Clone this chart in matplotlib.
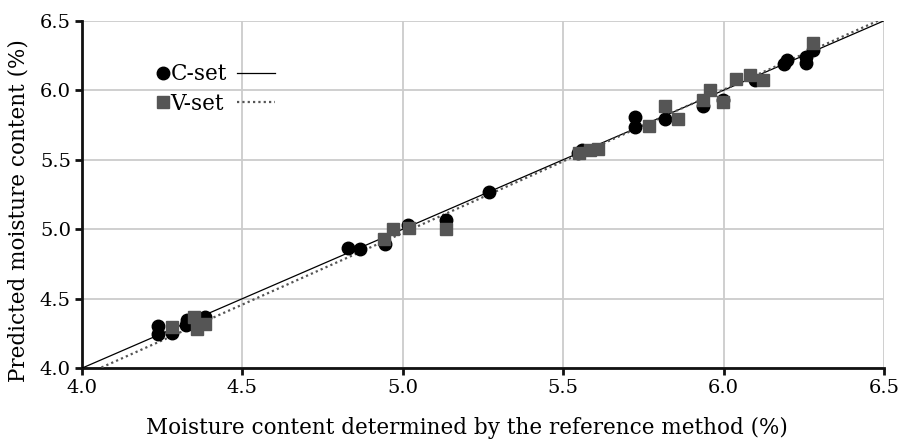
import matplotlib
matplotlib.use("Agg")
import matplotlib.pyplot as plt
from matplotlib.lines import Line2D
import numpy as np

plt.rcParams['font.family'] = ['DejaVu Serif', 'Liberation Serif']

# C-set (calibration) reference vs predicted
c_ref = [4.237, 4.237, 4.28, 4.324, 4.327, 4.383, 4.828, 4.866, 4.944, 5.017, 5.135, 5.268,
         5.545, 5.56, 5.724, 5.724, 5.817, 5.937, 5.999, 6.098, 6.19, 6.197, 6.257, 6.257, 6.28]
c_pred = [4.302, 4.245, 4.25, 4.31, 4.35, 4.37, 4.865, 4.858, 4.897, 5.029, 5.065, 5.268,
          5.55, 5.57, 5.81, 5.736, 5.79, 5.89, 5.928, 6.072, 6.19, 6.215, 6.24, 6.195, 6.29]
# V-set (validation)
v_ref = [4.28, 4.35, 4.358, 4.383, 4.942, 4.969, 5.019, 5.135, 5.55, 5.584, 5.61,
         5.768, 5.817, 5.859, 5.937, 5.958, 5.999, 6.038, 6.082, 6.124, 6.28]
v_pred = [4.295, 4.37, 4.28, 4.32, 4.933, 5.0, 5.012, 5.005, 5.545, 5.573, 5.576,
          5.741, 5.887, 5.796, 5.928, 6.005, 5.916, 6.083, 6.108, 6.077, 6.34]

# regression lines (slope, intercept)
c_fit = (1.0, 0.0)
v_fit = (1.031, -0.182)

x_ticks = [4.0, 4.5, 5.0, 5.5, 6.0, 6.5]
y_ticks = [4.0, 4.5, 5.0, 5.5, 6.0, 6.5]

fig = plt.figure(figsize=(9.01, 4.43), dpi=100)
ax = fig.add_axes([0.091, 0.169, 0.890, 0.784])

ax.set_xlim(4.0, 6.5)
ax.set_ylim(4.0, 6.5)
ax.set_xticks(x_ticks)
ax.set_yticks(y_ticks)
ax.set_xticklabels([f"{t:.1f}" for t in x_ticks])
ax.set_yticklabels([f"{t:.1f}" for t in y_ticks])
ax.grid(True, color='#cccccc', linewidth=1.3)
ax.set_axisbelow(True)

xs = np.linspace(4.0, 6.5, 200)
ax.plot(xs, c_fit[0] * xs + c_fit[1], color='black', linewidth=0.9, zorder=3)
ax.plot(xs, v_fit[0] * xs + v_fit[1], color='#555555', linewidth=1.6,
        linestyle=(0, (1, 1.4)), zorder=3)

ax.plot(c_ref, c_pred, 'o', color='black', markersize=9, zorder=4, linestyle='none')
ax.plot(v_ref, v_pred, 's', color='#555555', markersize=8.5, zorder=5, linestyle='none')

for s in ['top', 'right']:
    ax.spines[s].set_visible(False)
for s in ['left', 'bottom']:
    ax.spines[s].set_linewidth(2)
    ax.spines[s].set_color('#111111')
ax.tick_params(axis='both', which='major', labelsize=14, width=2, length=5,
               direction='out', color='#111111', pad=3)

ax.set_xlabel('Moisture content determined by the reference method (%)', fontsize=15.5)
ax.set_ylabel('Predicted moisture content (%)', fontsize=15.5)
ax.xaxis.set_label_coords(0.48, -0.14)
ax.yaxis.set_label_coords(-0.066, 0.455)

# legend: markers with text, then line samples
mk = [Line2D([], [], marker='o', color='black', linestyle='none', markersize=9),
      Line2D([], [], marker='s', color='#555555', linestyle='none', markersize=8.5)]
leg1 = ax.legend(mk, ['C-set', 'V-set'], loc='upper left', bbox_to_anchor=(0.082, 0.903),
                 frameon=False, fontsize=15.5, handlelength=0.6, handletextpad=0.05,
                 labelspacing=0.35, borderaxespad=0)
ax.add_artist(leg1)
ln = [Line2D([], [], color='black', linewidth=0.9),
      Line2D([], [], color='#555555', linewidth=1.6, linestyle=(0, (1, 1.4)))]
ax.legend(ln, ['', ''], loc='upper left', bbox_to_anchor=(0.182, 0.903), frameon=False,
          fontsize=15.5, handlelength=1.77, handletextpad=0, labelspacing=0.35, borderaxespad=0)

fig.savefig('out.png', dpi=100)
